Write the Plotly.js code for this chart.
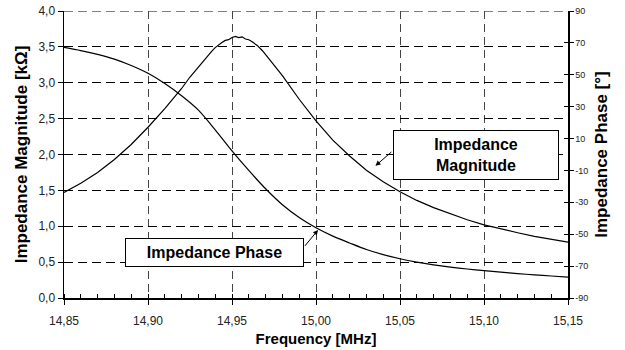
<!DOCTYPE html>
<html>
<head>
<meta charset="utf-8">
<script src="https://cdn.plot.ly/plotly-3.0.1.min.js"></script>
<style>html,body{margin:0;padding:0;background:#fff;}#chart{width:625px;height:350px;}</style>
</head>
<body>
<div id="chart"></div>
<script>
// Frequency [MHz] for the impedance magnitude curve
const magFreq = [14.85, 14.86, 14.87, 14.88, 14.89, 14.90, 14.91, 14.92, 14.925, 14.93, 14.935, 14.938, 14.94, 14.942, 14.944, 14.946, 14.948, 14.95, 14.952, 14.954, 14.956, 14.958, 14.96, 14.962, 14.965, 14.968, 14.97, 14.975, 14.98, 14.99, 15.00, 15.01, 15.02, 15.03, 15.04, 15.05, 15.06, 15.07, 15.08, 15.09, 15.10, 15.11, 15.12, 15.13, 15.14, 15.15];
// Impedance magnitude [kOhm]
const magnitude = [1.47, 1.60, 1.75, 1.93, 2.14, 2.38, 2.64, 2.92, 3.08, 3.22, 3.37, 3.44, 3.49, 3.53, 3.56, 3.59, 3.60, 3.63, 3.645, 3.63, 3.64, 3.61, 3.60, 3.57, 3.52, 3.45, 3.39, 3.25, 3.10, 2.77, 2.47, 2.20, 1.98, 1.78, 1.62, 1.48, 1.36, 1.26, 1.17, 1.09, 1.02, 0.96, 0.91, 0.86, 0.82, 0.78];
// Frequency [MHz] for the impedance phase curve
const phaseFreq = [14.85, 14.86, 14.87, 14.88, 14.89, 14.90, 14.91, 14.92, 14.93, 14.94, 14.95, 14.96, 14.97, 14.98, 14.99, 15.00, 15.01, 15.02, 15.03, 15.04, 15.05, 15.06, 15.07, 15.08, 15.09, 15.10, 15.11, 15.12, 15.13, 15.14, 15.15];
// Impedance phase [deg]
const phase = [67.2, 65.2, 62.8, 59.8, 55.8, 50.9, 44.5, 36.8, 27.8, 15.5, 2.3, -10.0, -21.5, -31.5, -39.5, -46.0, -51.2, -55.5, -59.6, -62.8, -65.4, -67.5, -69.2, -70.6, -71.8, -72.8, -73.8, -74.7, -75.5, -76.2, -76.9];

// Right axis tick values and labels (hyphen minus as in the original)
const phaseTickVals = [-90, -70, -50, -30, -10, 10, 30, 50, 70, 90];
const phaseTickText = ['-90', '-70', '-50', '-30', '-10', '10', '30', '50', '70', '90'];

const labelMag = 'Impedance<br>Magnitude';
const labelPhase = 'Impedance Phase';

const FONT = 'Liberation Sans, Arial, sans-serif';

const traces = [
  {x: magFreq, y: magnitude, type: 'scatter', mode: 'lines', yaxis: 'y',
   line: {color: '#000', width: 1.2}, hoverinfo: 'skip', showlegend: false},
  {x: phaseFreq, y: phase, type: 'scatter', mode: 'lines', yaxis: 'y2',
   line: {color: '#000', width: 1.2, shape: 'spline', smoothing: 0.8}, hoverinfo: 'skip', showlegend: false},
  {x: [null], y: [null], type: 'scatter', mode: 'lines', yaxis: 'y3', hoverinfo: 'skip', showlegend: false}
];

const layout = {
  width: 625, height: 350,
  margin: {l: 64, r: 57, t: 11, b: 52},
  paper_bgcolor: '#fff', plot_bgcolor: '#fff',
  separators: ',.',
  font: {family: FONT, color: '#000'},
  showlegend: false,
  xaxis: {
    range: [14.85, 15.15], tick0: 14.85, dtick: 0.05, tickformat: '.2f',
    showline: true, linecolor: '#000', linewidth: 1.5, mirror: false,
    ticks: 'outside', ticklen: 5, tickcolor: '#000', tickwidth: 1,
    tickfont: {size: 12, color: '#222'}, ticklabelstandoff: 6,
    showgrid: true, gridcolor: '#444', gridwidth: 1, griddash: '8px,5px',
    zeroline: false,
    minor: {dtick: 0.01, ticks: 'inside', ticklen: 4, tickcolor: '#000', showgrid: false},
    title: {text: 'Frequency [MHz]', font: {size: 15, family: FONT, weight: 'bold'}, standoff: 6}
  },
  yaxis: {
    range: [0, 4], tick0: 0, dtick: 0.5, tickformat: '.1f',
    showline: true, linecolor: '#000', linewidth: 1.5,
    ticks: 'outside', ticklen: 5, tickcolor: '#000', tickwidth: 1,
    tickfont: {size: 12, color: '#222'},
    showgrid: true, gridcolor: '#000', gridwidth: 1, griddash: '9px,5px',
    zeroline: false,
    title: {text: 'Impedance Magnitude [kΩ]', font: {size: 17, family: FONT, weight: 'bold'}, standoff: 6}
  },
  yaxis2: {
    overlaying: 'y', side: 'right', anchor: 'x',
    range: [-90, 90], tickmode: 'array', tickvals: phaseTickVals, ticktext: phaseTickText,
    showline: true, linecolor: '#000', linewidth: 1.5,
    ticks: 'outside', ticklen: 4, tickcolor: '#000', tickwidth: 1,
    tickfont: {size: 9, color: '#222'},
    showgrid: false, zeroline: false,
    title: {text: 'Impedance Phase [°]', font: {size: 17, family: FONT, weight: 'bold'}, standoff: 8}
  },
  yaxis3: {
    overlaying: 'y', side: 'right', anchor: 'x',
    range: [-90, 90], tickmode: 'array', tickvals: phaseTickVals,
    showline: false, ticks: 'inside', ticklen: 4, tickcolor: '#000', tickwidth: 1,
    showticklabels: false, showgrid: false, zeroline: false
  },
  shapes: [
    {type: 'line', xref: 'x', yref: 'y', x0: 14.85, x1: 15.15, y0: 4, y1: 4,
     line: {color: '#000', width: 1, dash: '9px,5px'}, layer: 'below'}
  ],
  annotations: [
    {xref: 'x', yref: 'y', x: 15.095, y: 2.0, text: labelMag, showarrow: false,
     font: {size: 16, family: FONT, weight: 'bold', color: '#000'},
     bgcolor: '#fff', bordercolor: '#000', borderwidth: 1, borderpad: 1,
     width: 162, height: 46, align: 'center'},
    {xref: 'x', yref: 'y', x: 14.9396, y: 0.641, text: labelPhase, showarrow: false,
     font: {size: 16, family: FONT, weight: 'bold', color: '#000'},
     bgcolor: '#fff', bordercolor: '#000', borderwidth: 1, borderpad: 1,
     width: 175, height: 25, align: 'center'},
    {xref: 'x', yref: 'y', x: 15.0354, y: 1.843, text: '', showarrow: true,
     ax: 17.4, ay: -15, arrowhead: 2, arrowsize: 1, arrowwidth: 1, arrowcolor: '#000', standoff: 0},
    {xref: 'x', yref: 'y', x: 15.0012, y: 0.947, text: '', showarrow: true,
     ax: -14.3, ay: 17.3, arrowhead: 2, arrowsize: 1, arrowwidth: 1, arrowcolor: '#000', standoff: 0}
  ]
};

Plotly.newPlot('chart', traces, layout, {staticPlot: true, displayModeBar: false});
</script>
</body>
</html>
